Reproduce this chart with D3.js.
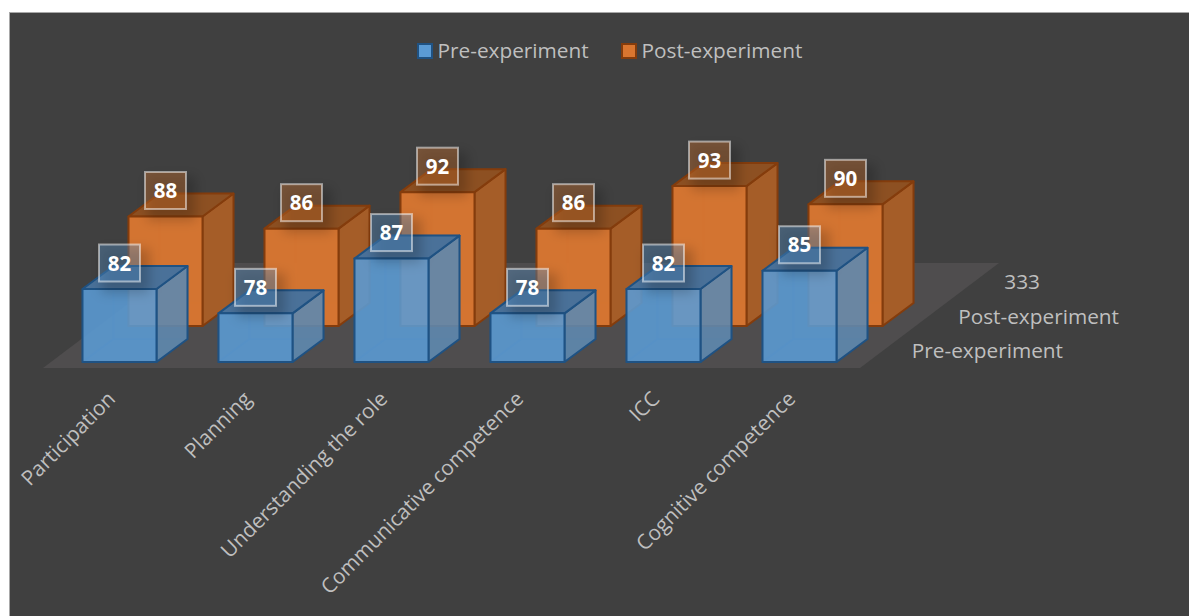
<!DOCTYPE html>
<html><head><meta charset="utf-8">
<script src="https://cdn.jsdelivr.net/npm/d3@7"></script>
<style>html,body{margin:0;padding:0;background:#fff;overflow:hidden}svg{display:block}</style>
</head><body><svg id="c" width="1189" height="616"></svg>
<script>
const categories = ["Participation","Planning","Understanding the role","Communicative competence","ICC","Cognitive competence"];
const seriesNames = ["Pre-experiment","Post-experiment"];
const preValues = [82,78,87,78,82,85];
const postValues = [88,86,92,86,93,90];
const depthLabels = ["Pre-experiment","Post-experiment","333"];
const FONT = "'Open Sans','Noto Sans',sans-serif";
const svg = d3.select("#c");
const defs = svg.append("defs");
const blur = defs.append("filter").attr("id","sh").attr("x","-60%").attr("y","-60%").attr("width","220%").attr("height","220%");
blur.append("feGaussianBlur").attr("stdDeviation",6);

svg.append("rect").attr("x",9.5).attr("y",12.5).attr("width",1190).attr("height",610)
  .attr("fill","#404040").attr("stroke","#a8a8a8").attr("stroke-width",1);

const x = d3.scaleBand().domain(categories).range([51.5,867.5]).paddingInner(62/136).paddingOuter(31/136);
const y = d3.scaleLinear().domain([70,100]).range([0,182.5]);
const z = d3.scalePoint().domain(["Pre","Post"]).range([0,1]);
const rowDx = 46, rowDy = -36, dDx = 31, dDy = -23;

svg.append("polygon").attr("points",[[43,368],[860,368],[999,263],[182,263]].join(" ")).attr("fill","#4f4d4e");

const styles = {
 Pre:{front:"#5b9bd5",side:"#5f87ad",sideFill:.88,top:"#4a7199",edge:"#1f5283",alpha:.85},
 Post:{front:"#d97630",side:"#a55d28",sideFill:1,top:"#8d5022",edge:"#843c0c",alpha:.95}
};
function cube(g,v,cat,row,st){
  const bx = x(cat)+z(row)*rowDx, by = 362+z(row)*rowDy, w = x.bandwidth(), h = y(v), ty = by-h;
  const f=(pts,fill,op,sop)=>g.append("polygon").attr("points",pts.join(" ")).attr("fill",fill).attr("fill-opacity",op)
    .attr("stroke",st.edge).attr("stroke-opacity",sop).attr("stroke-width",2).attr("stroke-linejoin","round");
  f([[bx,by],[bx+w,by],[bx+w+dDx,by+dDy],[bx+dDx,by+dDy]],st.front,.25,.2);
  f([[bx,by],[bx,ty],[bx+dDx,ty+dDy],[bx+dDx,by+dDy]],st.front,.2,.15);
  f([[bx+dDx,by+dDy],[bx+dDx,ty+dDy],[bx+w+dDx,ty+dDy],[bx+w+dDx,by+dDy]],st.front,.2,.15);
  f([[bx+w,by],[bx+w,ty],[bx+w+dDx,ty+dDy],[bx+w+dDx,by+dDy]],st.side,st.sideFill,1);
  f([[bx,ty],[bx+w,ty],[bx+w+dDx,ty+dDy],[bx+dDx,ty+dDy]],st.top,1,1);
  f([[bx,by],[bx+w,by],[bx+w,ty],[bx,ty]],st.front,st.alpha,1);
  return {cx:bx+w/2, cy:ty-26};
}
const labels=[];
categories.forEach((c,i)=>{ labels.push({...cube(svg.append("g"),postValues[i],c,"Post",styles.Post),v:postValues[i],base:"#d97630",op:.36}); });
categories.forEach((c,i)=>{ labels.push({...cube(svg.append("g"),preValues[i],c,"Pre",styles.Pre),v:preValues[i],base:"#5b9bd5",op:.36}); });

const lg = svg.append("g");
labels.forEach(d=>{
  lg.append("rect").attr("x",d.cx-18).attr("y",d.cy-14).attr("width",48).attr("height",44).attr("fill","#000").attr("fill-opacity",.2).attr("filter","url(#sh)");
  lg.append("rect").attr("x",d.cx-20.5).attr("y",d.cy-18.5).attr("width",41).attr("height",37).attr("fill",d.base).attr("fill-opacity",d.op)
    .attr("stroke","#ffffff").attr("stroke-opacity",.5).attr("stroke-width",2);
  lg.append("text").attr("x",d.cx).attr("y",d.cy+7.5).attr("text-anchor","middle").attr("font-family",FONT).attr("font-weight",700).attr("font-size",20.5).attr("fill","#fff").text(d.v);
});

const txt = "#bfbfbf";
categories.forEach(c=>{
  const ax = x(c)+x.bandwidth()/2-8, ay = 395;
  svg.append("text").attr("transform",`translate(${ax},${ay}) rotate(-45)`).attr("text-anchor","end").attr("dy","0.35em")
    .attr("font-family",FONT).attr("font-size",20.8).attr("fill",txt).text(c);
});
const depthX = [1063,1119,1040], depthY = [351,317,282];
depthLabels.forEach((t,i)=>svg.append("text").attr("x",depthX[i]).attr("y",depthY[i]).attr("dy","0.35em").attr("text-anchor","end")
  .attr("font-family",FONT).attr("font-size",20.8).attr("fill",txt).text(t));

const legendX=[417,621], legendC=["#5b9bd5","#d97630"], legendE=["#1f5283","#843c0c"];
seriesNames.forEach((t,i)=>{
  svg.append("rect").attr("x",legendX[i]+1).attr("y",44).attr("width",14).attr("height",14).attr("fill",legendC[i]).attr("stroke",legendE[i]).attr("stroke-width",2);
  svg.append("text").attr("x",legendX[i]+20.5).attr("y",51).attr("dy","0.35em").attr("font-family",FONT).attr("font-size",20.8).attr("fill",txt).text(t);
});
</script></body></html>
